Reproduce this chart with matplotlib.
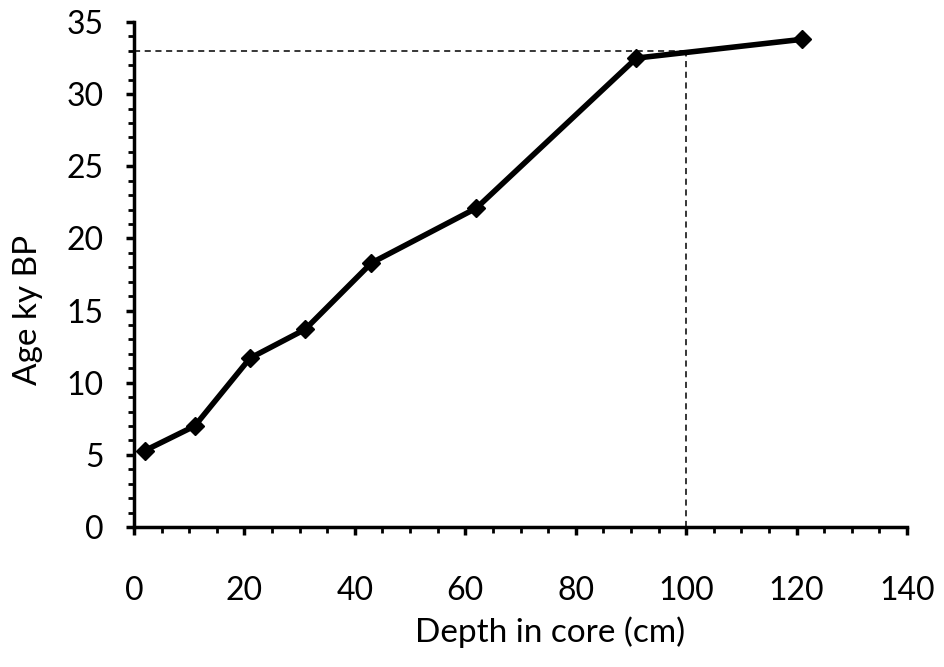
import matplotlib
matplotlib.use("Agg")
import matplotlib.pyplot as plt
from matplotlib.ticker import MultipleLocator

# depth in core (cm) vs age (ky BP)
depth = [2, 11, 21, 31, 43, 62, 91, 121]
age = [5.3, 7.0, 11.7, 13.7, 18.3, 22.1, 32.5, 33.8]

# reference lines
ref_depth = 100
ref_age = 33

plt.rcParams['font.family'] = ['Lato', 'DejaVu Sans']

fig = plt.figure(figsize=(9.45, 6.67), dpi=100)
ax = fig.add_axes([0.1418, 0.2099, 0.8180, 0.7571])

ax.plot([0, ref_depth], [ref_age, ref_age], color='black', lw=1.1, ls=(0, (4, 3)))
ax.plot([ref_depth, ref_depth], [0, ref_age], color='black', lw=1.1, ls=(0, (4, 3)))
ax.plot(depth, age, color='black', lw=4, marker='D', markersize=9.5, zorder=3)

ax.set_xlim(0, 140)
ax.set_ylim(0, 35)
ax.xaxis.set_major_locator(MultipleLocator(20))
ax.xaxis.set_minor_locator(MultipleLocator(5))
ax.yaxis.set_major_locator(MultipleLocator(5))
ax.yaxis.set_minor_locator(MultipleLocator(1))

for s in ['top', 'right']:
    ax.spines[s].set_visible(False)
for s in ['left', 'bottom']:
    ax.spines[s].set_linewidth(2.5)

ax.tick_params(which='major', direction='out', length=6, width=2.5, labelsize=23)
ax.tick_params(axis='x', which='major', pad=29)
ax.tick_params(axis='y', which='major', pad=16)
ax.tick_params(which='minor', direction='out', length=4, width=2)

ax.set_xlabel('Depth in core (cm)', fontsize=24, labelpad=8, x=0.538)
ax.set_ylabel('Age ky BP', fontsize=24, labelpad=17, y=0.43)

fig.savefig('out.png', dpi=100)
